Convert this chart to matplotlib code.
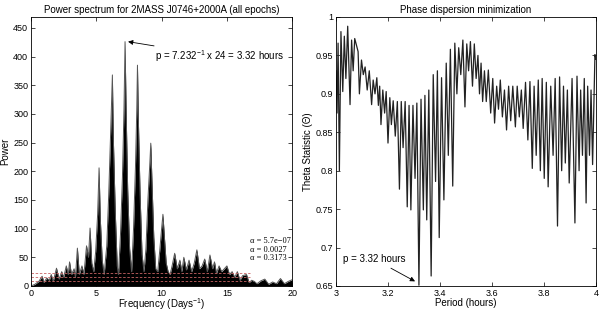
import matplotlib
matplotlib.use("Agg")
import matplotlib.pyplot as plt
import numpy as np

plt.rcParams['font.family'] = ['Liberation Sans', 'DejaVu Sans']
plt.rcParams['mathtext.fontset'] = 'custom'
plt.rcParams['mathtext.rm'] = 'Liberation Sans'

# periodogramme (enveloppe)
freq = [0.0, 0.3, 0.6, 0.85, 1.0, 1.2, 1.4, 1.55, 1.7, 1.95, 2.15, 2.35, 2.5, 2.7, 2.85,
        2.95, 3.1, 3.3, 3.4, 3.55, 3.7, 3.9, 4.05, 4.25, 4.4, 4.52, 4.65, 4.8, 4.95, 5.1,
        5.21, 5.3, 5.45, 5.6, 5.8, 5.95, 6.1, 6.23, 6.3, 6.45, 6.6, 6.7, 6.85, 7.0, 7.12,
        7.2, 7.28, 7.4, 7.55, 7.7, 7.85, 8.0, 8.1, 8.15, 8.22, 8.35, 8.5, 8.65, 8.8, 8.95,
        9.1, 9.17, 9.25, 9.4, 9.55, 9.7, 9.85, 10.0, 10.1, 10.2, 10.35, 10.5, 10.65, 10.8,
        11.0, 11.2, 11.4, 11.55, 11.7, 11.9, 12.1, 12.3, 12.5, 12.7, 12.9, 13.1, 13.3, 13.5,
        13.7, 13.9, 14.05, 14.2, 14.4, 14.6, 14.8, 15.0, 15.2, 15.4, 15.6, 15.8, 16.0, 16.2,
        16.5, 16.7, 16.9, 17.1, 17.3, 17.6, 17.9, 18.2, 18.5, 18.8, 19.1, 19.4, 19.7, 20.0]
power = [0, 3, 8, 17, 6, 14, 10, 20, 8, 31, 12, 25, 15, 35, 20,
         42, 20, 30, 15, 66, 20, 35, 20, 70, 50, 101, 40, 25, 60, 125,
         206, 120, 45, 20, 70, 160, 270, 368, 260, 130, 35, 20, 90, 190, 310,
         426, 310, 170, 65, 25, 100, 210, 310, 385, 290, 160, 55, 25, 65, 150,
         215, 249, 190, 85, 30, 25, 60, 100, 125, 90, 40, 25, 20, 35,
         57, 30, 45, 25, 50, 28, 45, 25, 40, 63, 30, 35, 47, 25,
         54, 30, 42, 22, 35, 25, 30, 35, 20, 25, 15, 25, 10, 18,
         20, 6, 10, 8, 4, 9, 12, 3, 7, 4, 13, 4, 8, 11]

# seuils de significativite
alpha_levels = [23, 15.5, 9]
alpha_labels = ['\u03b1 = 5.7e\u221207', '\u03b1 = 0.0027', '\u03b1 = 0.3173']

# minimisation de la dispersion de phase
per_min = [3.004, 3.013, 3.026, 3.038, 3.054, 3.066, 3.09, 3.105, 3.12, 3.137, 3.15, 3.163,
           3.173, 3.187, 3.2, 3.213, 3.228, 3.244, 3.258, 3.274, 3.288, 3.304, 3.319, 3.336,
           3.349, 3.366, 3.383, 3.397, 3.415, 3.432, 3.449, 3.465, 3.48, 3.496, 3.51, 3.525,
           3.539, 3.552, 3.564, 3.578, 3.595, 3.61, 3.625, 3.64, 3.656, 3.672, 3.69, 3.705,
           3.72, 3.738, 3.755, 3.77, 3.786, 3.801, 3.816, 3.835, 3.852, 3.868, 3.882, 3.897,
           3.919, 3.935, 3.948, 3.962, 3.975, 3.987]
theta_min = [0.875, 0.80, 0.903, 0.92, 0.886, 0.93, 0.90, 0.925, 0.905, 0.886, 0.90, 0.885,
             0.86, 0.875, 0.836, 0.86, 0.845, 0.776, 0.83, 0.753, 0.749, 0.79, 0.651, 0.749,
             0.736, 0.663, 0.786, 0.713, 0.762, 0.82, 0.78, 0.90, 0.925, 0.883, 0.93, 0.91,
             0.92, 0.90, 0.89, 0.89, 0.875, 0.862, 0.88, 0.87, 0.853, 0.865, 0.857, 0.87,
             0.855, 0.84, 0.803, 0.82, 0.80, 0.79, 0.779, 0.82, 0.728, 0.80, 0.81, 0.784,
             0.732, 0.80, 0.82, 0.758, 0.82, 0.808]
per_max = [3.0, 3.008, 3.019, 3.032, 3.045, 3.06, 3.072, 3.085, 3.098, 3.112, 3.128, 3.143,
           3.157, 3.168, 3.18, 3.193, 3.207, 3.22, 3.236, 3.251, 3.266, 3.281, 3.296, 3.311,
           3.327, 3.342, 3.357, 3.374, 3.39, 3.406, 3.424, 3.44, 3.457, 3.472, 3.488, 3.503,
           3.517, 3.532, 3.546, 3.558, 3.571, 3.586, 3.603, 3.618, 3.632, 3.648, 3.664, 3.68,
           3.697, 3.713, 3.729, 3.746, 3.762, 3.778, 3.793, 3.809, 3.826, 3.843, 3.86, 3.875,
           3.89, 3.908, 3.927, 3.941, 3.955, 3.968, 3.981, 3.996, 4.0]
theta_max = [0.93, 0.966, 0.981, 0.975, 0.988, 0.97, 0.972, 0.955, 0.944, 0.935, 0.93, 0.918,
             0.921, 0.91, 0.905, 0.903, 0.895, 0.891, 0.89, 0.89, 0.89, 0.885, 0.885, 0.888,
             0.893, 0.898, 0.905, 0.925, 0.93, 0.921, 0.94, 0.958, 0.966, 0.96, 0.97, 0.965,
             0.968, 0.965, 0.95, 0.94, 0.93, 0.931, 0.92, 0.91, 0.918, 0.905, 0.91, 0.91,
             0.91, 0.905, 0.915, 0.916, 0.91, 0.918, 0.92, 0.915, 0.91, 0.92, 0.922, 0.91,
             0.905, 0.92, 0.923, 0.905, 0.92, 0.91, 0.905, 0.951, 0.945]

pts = sorted(zip(per_min + per_max, theta_min + theta_max))
periode = [p[0] for p in pts]
theta = [p[1] for p in pts]

fig = plt.figure(figsize=(6, 3.13), dpi=100)
ax1 = fig.add_axes([0.0517, 0.0863, 0.4353, 0.8594])
ax2 = fig.add_axes([0.56, 0.0863, 0.4333, 0.8594])

# panneau gauche
ax1.fill_between(freq, 0, power, color='black', lw=0)
ax1.plot(freq, power, color='#555555', lw=0.7)
for lev in alpha_levels:
    ax1.plot([0, 16.8], [lev, lev], color='#c86464', lw=0.6, ls=(0, (3, 2)))
for i, lab in enumerate(alpha_labels):
    ax1.text(16.8, 79 - 15.5 * i, lab, fontsize=6, family=['Liberation Serif'], va='center')
ax1.annotate('p = 7.232$^{-1}$ x 24 = 3.32 hours', xy=(7.43, 426), xytext=(9.5, 400),
             fontsize=7, va='center', ha='left',
             arrowprops=dict(arrowstyle='-|>', color='black', lw=0.6, mutation_scale=7,
                             shrinkA=0, shrinkB=0))
ax1.set_xlim(0, 20)
ax1.set_ylim(0, 469)
ax1.set_xticks([0, 5, 10, 15, 20])
ax1.set_yticks(np.arange(0, 451, 50))
ax1.set_title('Power spectrum for 2MASS J0746+2000A (all epochs)', fontsize=7, pad=3)
ax1.set_xlabel('Frequency (Days$^{-1}$)', fontsize=7, labelpad=-1)
ax1.set_ylabel('Power', fontsize=7, labelpad=2)

# panneau droit
ax2.plot(periode, theta, color='#222222', lw=0.9)
ax2.annotate('p = 3.32 hours', xy=(3.304, 0.656), xytext=(3.027, 0.685),
             fontsize=7, va='center', ha='left',
             arrowprops=dict(arrowstyle='-|>', color='black', lw=0.6, mutation_scale=7,
                             shrinkA=2, shrinkB=0))
ax2.set_xlim(3, 4)
ax2.set_ylim(0.65, 1)
ax2.set_xticks([3, 3.2, 3.4, 3.6, 3.8, 4])
ax2.set_xticklabels(['3', '3.2', '3.4', '3.6', '3.8', '4'])
ax2.set_yticks([0.65, 0.7, 0.75, 0.8, 0.85, 0.9, 0.95, 1])
ax2.set_yticklabels(['0.65', '0.7', '0.75', '0.8', '0.85', '0.9', '0.95', '1'])
ax2.set_title('Phase dispersion minimization', fontsize=7, pad=3)
ax2.set_xlabel('Period (hours)', fontsize=7, labelpad=0)
ax2.set_ylabel('Theta Statistic (\u0398)', fontsize=7, labelpad=2)

for ax in (ax1, ax2):
    ax.tick_params(direction='in', top=True, right=True, labelsize=6.5, length=3,
                   width=0.5, pad=2)
    for s in ax.spines.values():
        s.set_linewidth(0.6)

fig.savefig('out.png', dpi=100)
